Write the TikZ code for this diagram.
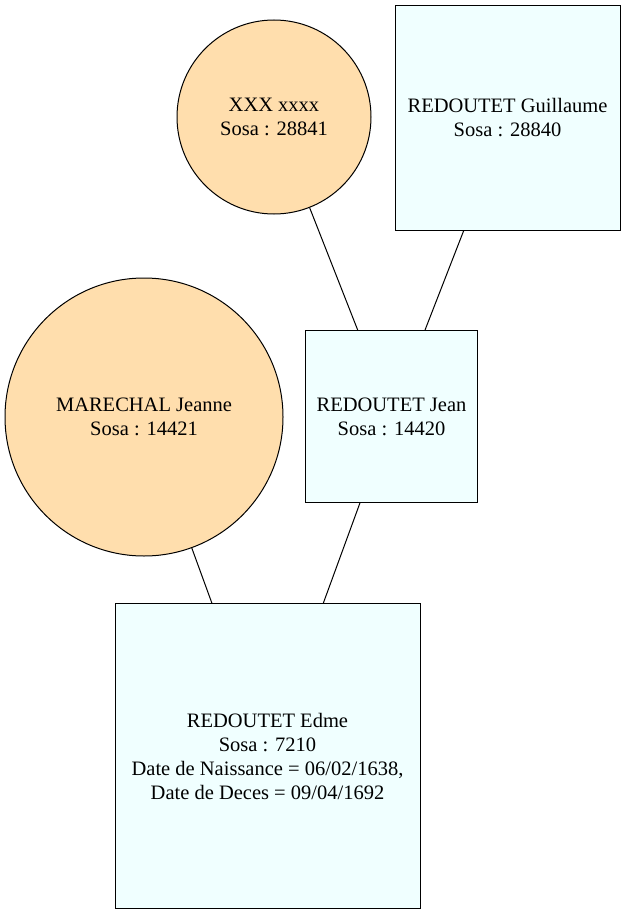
\documentclass[tikz,border=0pt]{standalone}
\usepackage{fontspec}
\setmainfont{Liberation Serif}
\definecolor{circfill}{HTML}{FFDEAD}
\definecolor{sqfill}{HTML}{F0FFFF}
\begin{document}
\begin{tikzpicture}[x=1pt,y=-1pt,
  person/.style={draw=black, line width=1pt, align=center, font=\fontsize{20.5}{24}\selectfont, inner sep=0pt},
  female/.style={person, circle, fill=circfill},
  male/.style={person, rectangle, fill=sqfill},
  link/.style={draw=black, line width=1pt}]
\useasboundingbox[fill=white] (0,0) rectangle (626,915);
\node[female, minimum size=194pt] (xxx) at (274,117) {XXX xxxx\\Sosa : 28841};
\node[male, minimum width=225pt, minimum height=225pt] (guil) at (507.5,118) {REDOUTET Guillaume\\Sosa : 28840};
\node[female, minimum size=278pt] (mar) at (144,417) {MARECHAL Jeanne\\Sosa : 14421};
\node[male, minimum width=172pt, minimum height=172pt] (jean) at (391.5,416.5) {REDOUTET Jean\\Sosa : 14420};
\node[male, minimum width=305pt, minimum height=305pt] (edme) at (267.5,756) {REDOUTET Edme\\Sosa : 7210\\Date de Naissance = 06/02/1638,\\Date de Deces = 09/04/1692};
\draw[link] (xxx) -- (jean);
\draw[link] (guil) -- (jean);
\draw[link] (mar) -- (edme);
\draw[link] (jean) -- (edme);
\end{tikzpicture}
\end{document}
